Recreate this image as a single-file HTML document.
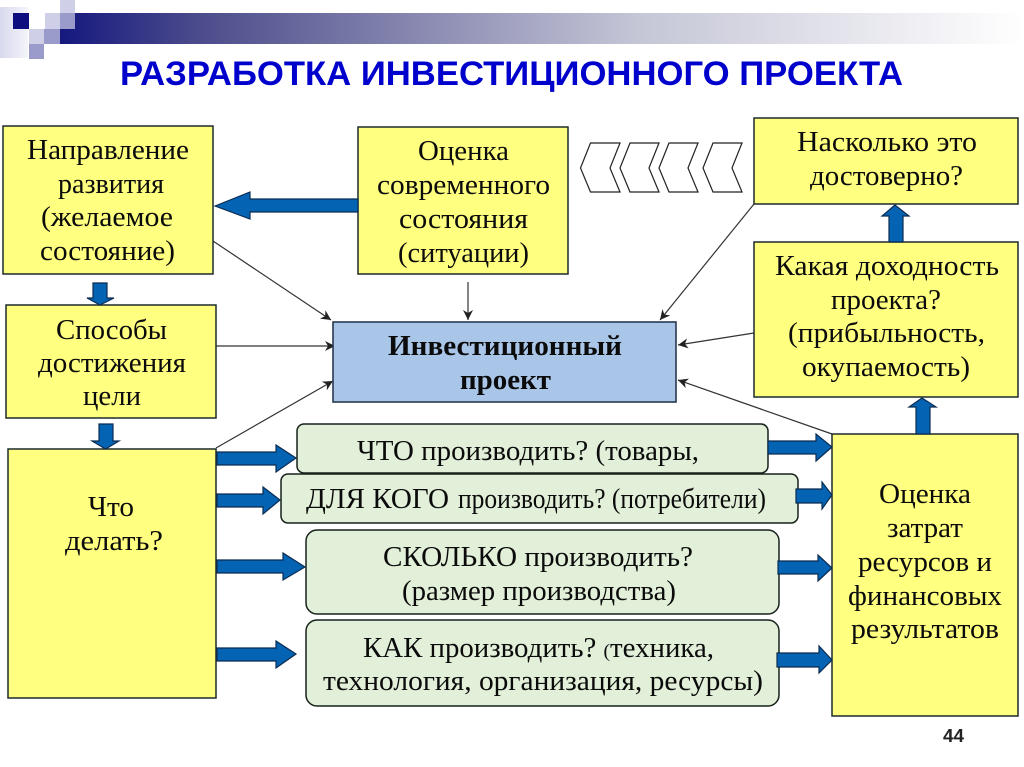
<!DOCTYPE html>
<html lang="ru">
<head>
<meta charset="utf-8">
<title>Разработка инвестиционного проекта</title>
<style>
html,body{margin:0;padding:0;background:#fff;width:1024px;height:767px;overflow:hidden}
svg{display:block}
text{font-family:"Liberation Serif","Noto Serif CJK SC",serif;font-size:28px;fill:#0b0b0b}
.y{fill:#ffff80;stroke:#1c2b2b;stroke-width:1.5}
.g{fill:#e2efd9;stroke:#16221a;stroke-width:1.5}
.a{fill:#0563b4;stroke:#0b2c52;stroke-width:1.2}
.l{stroke:#333;stroke-width:1.2;fill:none;marker-end:url(#m)}
.c{fill:#fff;stroke:#222;stroke-width:1.2}
</style>
</head>
<body>
<svg width="1024" height="767" viewBox="0 0 1024 767" xmlns="http://www.w3.org/2000/svg">
<defs>
<linearGradient id="bar" gradientUnits="userSpaceOnUse" x1="60" y1="0" x2="1024" y2="0">
<stop offset="0" stop-color="#15187e"/>
<stop offset="0.145" stop-color="#4c4c8c"/>
<stop offset="0.6" stop-color="#c5c6d6"/>
<stop offset="1" stop-color="#ffffff"/>
</linearGradient>
<linearGradient id="pale" x1="0" y1="0" x2="1" y2="0">
<stop offset="0" stop-color="#d8d9ee"/>
<stop offset="1" stop-color="#f4f4fa"/>
</linearGradient>
<marker id="m" markerUnits="userSpaceOnUse" markerWidth="12" markerHeight="12" refX="10" refY="5" orient="auto">
<path d="M0 0L10 5L0 10L3 5Z" fill="#222"/>
</marker>
</defs>

<rect width="1024" height="767" fill="#fff"/>

<!-- header decoration -->
<rect x="60" y="13" width="964" height="31" fill="url(#bar)"/>
<rect x="0" y="7" width="28" height="51" fill="url(#pale)"/>
<rect x="13" y="13" width="16" height="16" fill="#0d0d80"/>
<rect x="45" y="13" width="15" height="16" fill="#cfd0e8"/>
<rect x="60" y="0" width="15" height="13" fill="#cfd0e8"/>
<rect x="60" y="13" width="15" height="16" fill="#9a9bcb"/>
<rect x="29" y="29" width="15" height="15" fill="#cfd0e8"/>
<rect x="44" y="29" width="16" height="15" fill="#9a9bcb"/>
<rect x="29" y="44" width="15" height="15" fill="#9a9bcb"/>

<text x="120" y="85" textLength="783" lengthAdjust="spacingAndGlyphs" style="font-family:'Liberation Sans','Noto Sans CJK SC',sans-serif;font-size:34px;font-weight:bold;fill:#0000cc">РАЗРАБОТКА ИНВЕСТИЦИОННОГО ПРОЕКТА</text>

<!-- thin connectors -->
<line class="l" x1="213" y1="241" x2="331" y2="320"/>
<line class="l" x1="468" y1="282" x2="468" y2="320"/>
<line class="l" x1="754" y1="204" x2="660" y2="320"/>
<line class="l" x1="216" y1="346" x2="335" y2="346"/>
<line class="l" x1="216" y1="448" x2="333" y2="381"/>
<line class="l" x1="754" y1="333" x2="678" y2="345"/>
<line class="l" x1="832" y1="434" x2="678" y2="380"/>

<!-- yellow boxes -->
<rect class="y" x="3" y="126" width="210" height="148"/>
<rect class="y" x="358" y="127" width="210" height="147"/>
<rect class="y" x="754" y="118" width="264" height="86"/>
<rect class="y" x="754" y="242" width="264" height="155"/>
<rect class="y" x="6" y="305" width="210" height="113"/>
<rect class="y" x="8" y="449" width="208" height="249"/>
<rect class="y" x="832" y="434" width="186" height="282"/>

<!-- blue centre -->
<rect x="333" y="322" width="343" height="80" fill="#a9c6e8" stroke="#1c2f45" stroke-width="1.5"/>

<!-- green boxes -->
<rect class="g" x="297" y="424" width="471" height="49" rx="7"/>
<rect class="g" x="281" y="474" width="517" height="49" rx="7"/>
<rect class="g" x="306" y="530" width="473" height="84" rx="11"/>
<rect class="g" x="306" y="620" width="473" height="86" rx="11"/>

<!-- chevrons -->
<polygon class="c" points="590.5,143 620,143 610,168 620,192 590.5,192 580.5,168"/>
<polygon class="c" points="630,143 659,143 649,168 659,192 630,192 620,168"/>
<polygon class="c" points="669,143 698,143 688,168 698,192 669,192 659,168"/>
<polygon class="c" points="713,143 742,143 732,168 742,192 713,192 703,168"/>

<!-- block arrows -->
<polygon class="a" points="215,206 250,192 250,199 358,199 358,212 250,212 250,219"/>
<polygon class="a" points="895,205 882,216 889,216 889,242 903,242 903,216 909,216"/>
<polygon class="a" points="922,398 909,407 916,407 916,434 930,434 930,407 936,407"/>
<polygon class="a" points="100,305 87,298 93,298 93,283 107,283 107,298 114,298"/>
<polygon class="a" points="105.500,449 92,441 99,441 99,424 113,424 113,441 119,441"/>

<polygon class="a" points="217,452 276,452 276,445 296,458 276,472 276,465 217,465"/>
<polygon class="a" points="217,494 263,494 263,487 280,500 263,514 263,507 217,507"/>
<polygon class="a" points="217,560 283,560 283,553 305,567 283,580 283,573 217,573"/>
<polygon class="a" points="217,648 276,648 276,641 296,654 276,668 276,661 217,661"/>

<polygon class="a" points="768,441 816,441 816,434 832,447 816,461 816,454 768,454"/>
<polygon class="a" points="796,489 822,489 822,482 832,495 822,509 822,503 796,503"/>
<polygon class="a" points="778,561 818,561 818,555 832,568 818,581 818,574 778,574"/>
<polygon class="a" points="777,653 819,653 819,646 832,660 819,673 819,667 777,667"/>

<!-- labels -->
<g lengthAdjust="spacingAndGlyphs">
<text lengthAdjust="spacingAndGlyphs" x="27" y="159" textLength="162">Направление</text>
<text lengthAdjust="spacingAndGlyphs" x="58" y="193" textLength="106">развития</text>
<text lengthAdjust="spacingAndGlyphs" x="41" y="226" textLength="132">(желаемое</text>
<text lengthAdjust="spacingAndGlyphs" x="40" y="260" textLength="135">состояние)</text>

<text lengthAdjust="spacingAndGlyphs" x="418" y="160" textLength="91">Оценка</text>
<text lengthAdjust="spacingAndGlyphs" x="377" y="194" textLength="173">современного</text>
<text lengthAdjust="spacingAndGlyphs" x="399" y="228" textLength="129">состояния</text>
<text lengthAdjust="spacingAndGlyphs" x="398" y="262" textLength="131">(ситуации)</text>

<text lengthAdjust="spacingAndGlyphs" x="797" y="151" textLength="180">Насколько это</text>
<text lengthAdjust="spacingAndGlyphs" x="810" y="185" textLength="153">достоверно?</text>

<text lengthAdjust="spacingAndGlyphs" x="775" y="275" textLength="224">Какая доходность</text>
<text lengthAdjust="spacingAndGlyphs" x="831" y="309" textLength="110">проекта?</text>
<text lengthAdjust="spacingAndGlyphs" x="788" y="342" textLength="197">(прибыльность,</text>
<text lengthAdjust="spacingAndGlyphs" x="802" y="376" textLength="168">окупаемость)</text>

<text lengthAdjust="spacingAndGlyphs" x="56" y="339" textLength="111">Способы</text>
<text lengthAdjust="spacingAndGlyphs" x="38" y="372" textLength="148">достижения</text>
<text lengthAdjust="spacingAndGlyphs" x="83" y="405" textLength="58">цели</text>

<text lengthAdjust="spacingAndGlyphs" x="388" y="355" textLength="234" style="font-weight:bold">Инвестиционный</text>
<text lengthAdjust="spacingAndGlyphs" x="460" y="389" textLength="91" style="font-weight:bold">проект</text>

<text lengthAdjust="spacingAndGlyphs" x="88" y="516" textLength="46">Что</text>
<text lengthAdjust="spacingAndGlyphs" x="65" y="550" textLength="98">делать?</text>

<text lengthAdjust="spacingAndGlyphs" x="879" y="503" textLength="92">Оценка</text>
<text lengthAdjust="spacingAndGlyphs" x="887" y="537" textLength="76">затрат</text>
<text lengthAdjust="spacingAndGlyphs" x="858" y="571" textLength="134">ресурсов и</text>
<text lengthAdjust="spacingAndGlyphs" x="848" y="605" textLength="154">финансовых</text>
<text lengthAdjust="spacingAndGlyphs" x="851" y="638" textLength="148">результатов</text>

<text lengthAdjust="spacingAndGlyphs" x="357" y="460" textLength="342">ЧТО производить? (товары,</text>
<text lengthAdjust="spacingAndGlyphs" x="306" y="508" textLength="143">ДЛЯ КОГО</text>
<text lengthAdjust="spacingAndGlyphs" x="458" y="508" textLength="308">производить? (потребители)</text>
<text lengthAdjust="spacingAndGlyphs" x="383" y="566" textLength="310">СКОЛЬКО производить?</text>
<text lengthAdjust="spacingAndGlyphs" x="402" y="600" textLength="274">(размер производства)</text>
<text lengthAdjust="spacingAndGlyphs" x="363" y="657" textLength="351">КАК производить? <tspan style="font-size:19px">(</tspan>техника,</text>
<text lengthAdjust="spacingAndGlyphs" x="323" y="690" textLength="440">технология, организация, ресурсы)</text>
</g>

<text x="943" y="742" textLength="21" lengthAdjust="spacingAndGlyphs" style="font-family:'Liberation Sans',sans-serif;font-size:18px;font-weight:bold;fill:#222">44</text>
</svg>
</body>
</html>
